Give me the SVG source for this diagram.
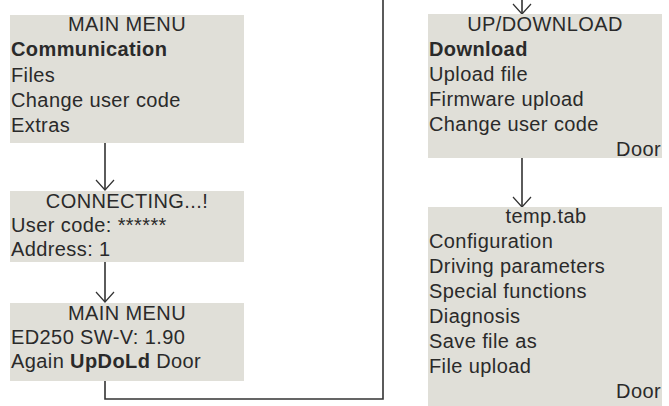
<svg xmlns="http://www.w3.org/2000/svg" width="669" height="406" viewBox="0 0 669 406">
<style>
.box{fill:#e0dfd8}
text{font-family:"Liberation Sans",Arial,sans-serif;font-size:20px;fill:#2a2a2a;letter-spacing:0.4px}
.b{font-weight:bold}
.c{text-anchor:middle}
.r{text-anchor:end}
.conn{fill:none;stroke:#333;stroke-width:1.6}
</style>
<defs>
<marker id="arr" markerUnits="userSpaceOnUse" markerWidth="24" markerHeight="24" viewBox="-12 -12 14 24" refX="0" refY="0" orient="auto" overflow="visible">
<path d="M-10,-9 L0,0 L-10,9" fill="none" stroke="#333" stroke-width="1.2"/>
</marker>
</defs>
<g id="connectors">
<path class="conn" d="M105,143 V190" marker-end="url(#arr)"/>
<path class="conn" d="M105,262 V302" marker-end="url(#arr)"/>
<path class="conn" d="M105,381 V399 H383 V-6 H522 V14" marker-end="url(#arr)"/>
<path class="conn" d="M522,158 V207" marker-end="url(#arr)"/>
</g>
<g id="main-menu">
<rect class="box" x="10" y="15" width="234" height="128"/>
<text class="c" x="127" y="31">MAIN MENU</text>
<text class="b" x="11" y="56">Communication</text>
<text x="11" y="82">Files</text>
<text x="11" y="107">Change user code</text>
<text x="11" y="132">Extras</text>
</g>
<g id="connecting">
<rect class="box" x="10" y="191" width="234" height="71"/>
<text class="c" x="127" y="208">CONNECTING...!</text>
<text x="11" y="232">User code: ******</text>
<text x="11" y="256">Address: 1</text>
</g>
<g id="main-menu-2">
<rect class="box" x="10" y="303" width="234" height="78"/>
<text class="c" x="127" y="320">MAIN MENU</text>
<text x="11" y="344">ED250 SW-V: 1.90</text>
<text x="11" y="368">Again <tspan class="b">UpDoLd</tspan> Door</text>
</g>
<g id="up-download">
<rect class="box" x="428" y="14" width="234" height="144"/>
<text class="c" x="545" y="31">UP/DOWNLOAD</text>
<text class="b" x="429" y="56">Download</text>
<text x="429" y="81">Upload file</text>
<text x="429" y="106">Firmware upload</text>
<text x="429" y="131">Change user code</text>
<text class="r" x="661" y="156">Door</text>
</g>
<g id="temp-tab">
<rect class="box" x="428" y="207" width="234" height="199"/>
<text class="c" x="546" y="223">temp.tab</text>
<text x="429" y="248">Configuration</text>
<text x="429" y="273">Driving parameters</text>
<text x="429" y="298">Special functions</text>
<text x="429" y="323">Diagnosis</text>
<text x="429" y="348">Save file as</text>
<text x="429" y="373">File upload</text>
<text class="r" x="661" y="398">Door</text>
</g>
</svg>
